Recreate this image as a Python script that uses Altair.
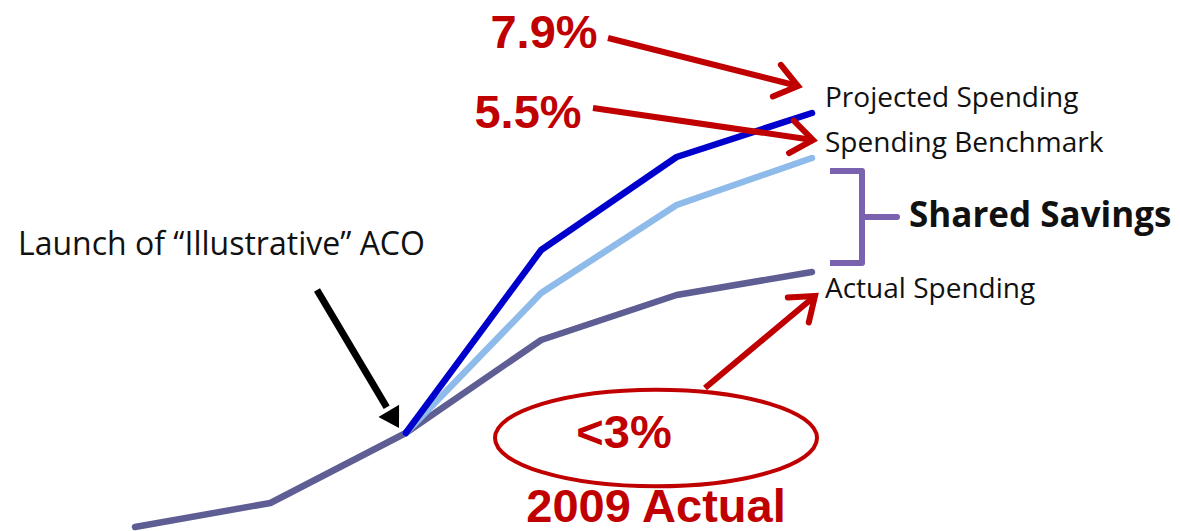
import math
import altair as alt
import pandas as pd

W, H = 1180, 531

# ---- line data (period index, spending index) ----
periods = [0, 1, 2, 3, 4, 5]
actual = [0.4, 2.8, 9.8, 19.1, 23.6, 25.9]
benchmark_periods = [2, 3, 4, 5]
benchmark = [9.8, 23.8, 32.6, 37.3]
projected_periods = [2, 3, 4, 5]
projected = [9.8, 28.1, 37.4, 41.8]

series_names = ["Actual Spending", "Spending Benchmark", "Projected Spending"]
series_colors = ["#5E5E94", "#8FBBEA", "#0000CD"]

rows = []
for p, v in zip(periods, actual):
    rows.append({"period": p, "value": v, "series": series_names[0]})
for p, v in zip(benchmark_periods, benchmark):
    rows.append({"period": p, "value": v, "series": series_names[1]})
for p, v in zip(projected_periods, projected):
    rows.append({"period": p, "value": v, "series": series_names[2]})
lines_df = pd.DataFrame(rows)

xs = alt.Scale(domain=[-0.997, 7.718])
ys = alt.Scale(domain=[0, 53.1])

line_layers = []
for name, col in zip(series_names, series_colors):
    line_layers.append(
        alt.Chart(lines_df).transform_filter(alt.datum.series == name)
        .mark_line(color=col, strokeWidth=6.5, interpolate="linear", strokeCap="round", strokeJoin="round")
        .encode(x=alt.X("period:Q", scale=xs, axis=None),
                y=alt.Y("value:Q", scale=ys, axis=None))
    )
lines = alt.layer(*line_layers)

# ---- annotation canvas (pixel-like units) ----
axs = alt.Scale(domain=[0, W])
ays = alt.Scale(domain=[H, 0])
RED = "#C00000"

# labels
lab_text = ["Projected Spending", "Spending Benchmark", "Actual Spending",
            "Launch of \u201cIllustrative\u201d ACO"]
lab_x = [825, 825, 825, 18]
lab_y = [107, 152, 298, 255]
lab_size = [28, 28, 28, 32]
labels_df = pd.DataFrame({"t": lab_text, "x": lab_x, "y": lab_y, "s": lab_size})
labels = alt.Chart(labels_df).mark_text(
    align="left", baseline="alphabetic", font="Open Sans", color="#111111"
).encode(x=alt.X("x:Q", scale=axs, axis=None), y=alt.Y("y:Q", scale=ays, axis=None), text="t:N",
         size=alt.Size("s:Q", scale=None, legend=None))

shared_df = pd.DataFrame({"t": ["Shared Savings"], "x": [909], "y": [227]})
shared = alt.Chart(shared_df).mark_text(
    align="left", baseline="alphabetic", font="Open Sans", fontSize=35, fontWeight="bold", color="#111111"
).encode(x=alt.X("x:Q", scale=axs), y=alt.Y("y:Q", scale=ays), text="t:N")

red_text = ["7.9%", "5.5%", "<3%", "2009 Actual"]
red_x = [544, 528, 624, 656]
red_y = [48, 128, 448, 522]
red_df = pd.DataFrame({"t": red_text, "x": red_x, "y": red_y})
reds = alt.Chart(red_df).mark_text(
    align="center", baseline="alphabetic", font="Liberation Sans", fontSize=47, fontWeight="bold", color=RED
).encode(x=alt.X("x:Q", scale=axs), y=alt.Y("y:Q", scale=ays), text="t:N")

# red arrows
arr_x0 = [608, 593, 705]
arr_y0 = [38, 108, 388]
arr_x1 = [798, 813, 815]
arr_y1 = [86, 140, 296]
arr_ang = [math.degrees(math.atan2(b1 - b0, a1 - a0)) % 360
           for a0, b0, a1, b1 in zip(arr_x0, arr_y0, arr_x1, arr_y1)]
arr_df = pd.DataFrame({"x": arr_x0, "y": arr_y0, "x2": arr_x1, "y2": arr_y1, "ang": arr_ang})
shafts = alt.Chart(arr_df).mark_rule(color=RED, strokeWidth=6).encode(
    x=alt.X("x:Q", scale=axs), y=alt.Y("y:Q", scale=ays), x2="x2:Q", y2="y2:Q")
heads = alt.Chart(arr_df).mark_point(
    shape="M -1 -0.75 L 0 0 L -1 0.75", filled=False, stroke=RED, strokeWidth=6,
    size=1900, opacity=1, strokeCap="round", strokeJoin="miter"
).encode(x=alt.X("x2:Q", scale=axs), y=alt.Y("y2:Q", scale=ays), angle=alt.Angle("ang:Q", scale=None))

# ellipse around <3%
ell_df = pd.DataFrame({"x": [656], "y": [438]})
ellipse = alt.Chart(ell_df).mark_point(
    shape="M -1 0 A 1 0.3 0 1 0 1 0 A 1 0.3 0 1 0 -1 0", filled=False, stroke=RED,
    strokeWidth=4, size=322 * 322, opacity=1
).encode(x=alt.X("x:Q", scale=axs), y=alt.Y("y:Q", scale=ays))

# black arrow to launch point
bx0, by0, bx1, by1 = 317, 290, 399, 428
b_ang = math.degrees(math.atan2(by1 - by0, bx1 - bx0))
frac = 0.85
barr_df = pd.DataFrame({"x": [bx0], "y": [by0],
                        "x2": [bx0 + (bx1 - bx0) * frac], "y2": [by0 + (by1 - by0) * frac],
                        "tx": [bx1], "ty": [by1], "ang": [b_ang]})
bshaft = alt.Chart(barr_df).mark_rule(color="#000000", strokeWidth=7).encode(
    x=alt.X("x:Q", scale=axs), y=alt.Y("y:Q", scale=ays), x2="x2:Q", y2="y2:Q")
bhead = alt.Chart(barr_df).mark_point(
    shape="M 0 0 L -1 -0.6 L -1 0.6 Z", filled=True, color="#000000", size=1600, opacity=1
).encode(x=alt.X("tx:Q", scale=axs), y=alt.Y("ty:Q", scale=ays), angle=alt.Angle("ang:Q", scale=None))

# bracket for shared savings
br_x = [830, 862, 862, 897, 862, 862, 830]
br_y = [171, 171, 217, 217, 217, 263, 263]
br_df = pd.DataFrame({"x": br_x, "y": br_y, "o": list(range(len(br_x)))})
bracket = alt.Chart(br_df).mark_line(color="#7A62AE", strokeWidth=6, strokeJoin="round").encode(
    x=alt.X("x:Q", scale=axs), y=alt.Y("y:Q", scale=ays), order="o:Q")

annot = alt.layer(bracket, shafts, heads, ellipse, bshaft, bhead, labels, shared, reds)

chart = alt.layer(lines, annot).resolve_scale(x="independent", y="independent").properties(
    width=W, height=H, autosize=alt.AutoSizeParams(type="none"), padding=0,
    background="#ffffff"
).configure_view(stroke=None).configure_axis(disable=True)

chart.save("out.html", embed_options={"renderer": "svg", "actions": False})
